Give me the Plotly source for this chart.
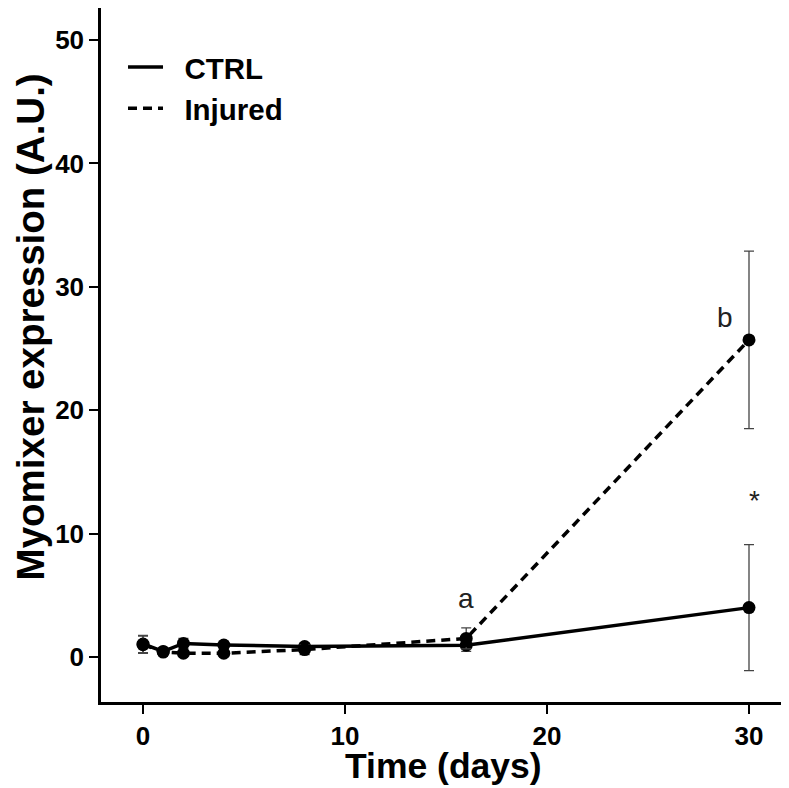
import plotly.graph_objects as go

days = [0, 1, 2, 4, 8, 16, 30]
ctrl = [1.05, 0.45, 1.1, 0.97, 0.85, 0.95, 4.0]
ctrl_err = [0.7, 0.25, 0.4, 0.3, 0.3, 0.5, 5.1]
injured = [1.0, 0.4, 0.3, 0.3, 0.6, 1.5, 25.7]
injured_err = [0.7, 0.2, 0.2, 0.2, 0.4, 0.85, 7.2]

annot_text = ["a", "b", "*"]
annot_x = [16, 28.8, 30.25]
annot_y = [4.7, 27.5, 12.7]

font = "Liberation Sans, Arial, sans-serif"
errc = "#444444"

fig = go.Figure()
# error bars + markers (no legend)
fig.add_trace(go.Scatter(x=days, y=ctrl, mode="markers", showlegend=False,
                         marker=dict(color="black", size=13),
                         error_y=dict(type="data", array=ctrl_err, color=errc, thickness=1.3, width=5)))
fig.add_trace(go.Scatter(x=days, y=injured, mode="markers", showlegend=False,
                         marker=dict(color="black", size=13),
                         error_y=dict(type="data", array=injured_err, color=errc, thickness=1.3, width=5)))
# lines with legend
fig.add_trace(go.Scatter(x=days, y=ctrl, mode="lines", name="\u00a0\u00a0CTRL",
                         line=dict(color="black", width=3.5)))
fig.add_trace(go.Scatter(x=days, y=injured, mode="lines", name="\u00a0\u00a0Injured",
                         line=dict(color="black", width=3.5, dash="9px,6px")))

for t, x, y in zip(annot_text, annot_x, annot_y):
    fig.add_annotation(x=x, y=y, text=t, showarrow=False,
                       font=dict(family=font, size=28, color="#222222"))

# axis titles
fig.add_annotation(xref="paper", yref="paper", x=-0.103, y=0.54,
                   xanchor="center", yanchor="middle",
                   text="Myomixer expression (A.U.)", textangle=-90, showarrow=False,
                   font=dict(family=font, size=38.5, weight="bold", color="black"))
fig.add_annotation(xref="paper", yref="paper", x=0.4985, y=0,
                   xanchor="center", yanchor="bottom", yshift=-85,
                   text="Time (days)", showarrow=False, borderpad=0,
                   font=dict(family=font, size=35.5, weight="bold", color="black"))

fig.update_layout(
    width=789, height=788,
    margin=dict(l=93, r=8, t=0, b=94),
    plot_bgcolor="white", paper_bgcolor="white",
    font=dict(family=font, color="black"),
    showlegend=True,
    legend=dict(x=0.032, y=0.952, xanchor="left", yanchor="top",
                bgcolor="rgba(0,0,0,0)",
                font=dict(family=font, size=29.5, color="black", weight="bold"),
                itemwidth=35),
    xaxis=dict(range=[-2.08, 31.98], tickvals=[0, 10, 20, 30],
               showgrid=False, zeroline=False,
               showline=True, linecolor="black", linewidth=2.5,
               ticks="outside", ticklen=9, tickwidth=2, tickcolor="black",
               tickfont=dict(family=font, size=26, weight="bold")),
    yaxis=dict(range=[-3.65, 52.6], tickvals=[0, 10, 20, 30, 40, 50],
               showgrid=False, zeroline=False,
               showline=True, linecolor="black", linewidth=2.5,
               ticks="outside", ticklen=9, tickwidth=2, tickcolor="black",
               tickfont=dict(family=font, size=26, weight="bold")),
)

fig.write_html("out.html")
